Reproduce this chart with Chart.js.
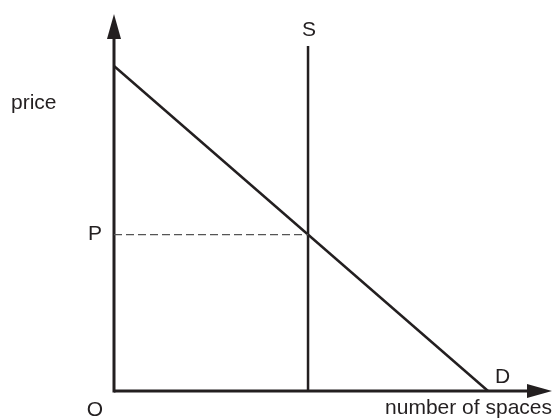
<!DOCTYPE html>
<html>
<head>
<meta charset="utf-8">
<script src="https://cdn.jsdelivr.net/npm/chart.js@4"></script>
<style>
  html, body { margin: 0; padding: 0; background: #fff; }
  canvas { display: block; }
</style>
</head>
<body>
<canvas id="chart-market" width="554" height="419"></canvas>
<script>
// diagram values, in axis units (0..100 each way)
const axisMax = [100, 100];
const demandTop = [0, 86.2];
const demandEnd = [85.4, 0];
const supplyX = [44.3, 44.3];
const supplyY = [0, 91.5];
const priceP = [41.5, 41.5];
const priceX = [0, 44.3];

const labels = {
  price: 'price',
  p: 'P',
  o: 'O',
  s: 'S',
  d: 'D',
  quantity: 'number of spaces'
};

const ink = '#231f20';

const diagramText = {
  id: 'diagramText',
  afterDatasetsDraw(chart) {
    const { ctx, scales } = chart;
    const x = scales.x, y = scales.y;
    const x0 = x.getPixelForValue(0), y0 = y.getPixelForValue(0);
    const xTip = x.getPixelForValue(axisMax[0]);
    const yTip = y.getPixelForValue(axisMax[1]);

    ctx.save();
    ctx.fillStyle = ink;
    // arrow heads
    ctx.beginPath();
    ctx.moveTo(x0, yTip);
    ctx.lineTo(x0 - 7, yTip + 25);
    ctx.lineTo(x0 + 7, yTip + 25);
    ctx.closePath();
    ctx.fill();
    ctx.beginPath();
    ctx.moveTo(xTip, y0);
    ctx.lineTo(xTip - 25, y0 - 7);
    ctx.lineTo(xTip - 25, y0 + 7);
    ctx.closePath();
    ctx.fill();

    ctx.font = '21px "Liberation Sans", Arial, sans-serif';
    ctx.textBaseline = 'middle';
    ctx.textAlign = 'center';
    ctx.fillText(labels.s, x.getPixelForValue(supplyX[1]) + 1, 30);
    ctx.fillText(labels.p, 95, y.getPixelForValue(priceP[0]));
    ctx.fillText(labels.o, 95, y0 + 19);
    ctx.textAlign = 'left';
    ctx.fillText(labels.d, x.getPixelForValue(demandEnd[0]) + 7, y0 - 14);
    ctx.fillText(labels.price, 11, 103);
    ctx.textAlign = 'right';
    ctx.fillText(labels.quantity, 552, y0 + 17);
    ctx.restore();
  }
};

new Chart(document.getElementById('chart-market'), {
  type: 'scatter',
  data: {
    datasets: [
      {
        label: 'price line',
        data: [{ x: priceX[0], y: priceP[0] }, { x: priceX[1], y: priceP[1] }],
        showLine: true,
        borderColor: '#555555',
        borderWidth: 1.3,
        borderDash: [8, 4],
        pointRadius: 0,
        clip: false
      },
      {
        label: 'x axis',
        data: [{ x: 0, y: 0 }, { x: axisMax[0] - 3, y: 0 }],
        showLine: true,
        borderColor: ink,
        borderWidth: 3,
        pointRadius: 0,
        clip: false
      },
      {
        label: 'y axis',
        data: [{ x: 0, y: 0 }, { x: 0, y: axisMax[1] - 3 }],
        showLine: true,
        borderColor: ink,
        borderWidth: 3,
        borderCapStyle: 'square',
        pointRadius: 0,
        clip: false
      },
      {
        label: 'D',
        data: [{ x: demandTop[0], y: demandTop[1] }, { x: demandEnd[0], y: demandEnd[1] }],
        showLine: true,
        borderColor: ink,
        borderWidth: 2.5,
        pointRadius: 0,
        clip: false
      },
      {
        label: 'S',
        data: [{ x: supplyX[0], y: supplyY[0] }, { x: supplyX[1], y: supplyY[1] }],
        showLine: true,
        borderColor: ink,
        borderWidth: 2.5,
        pointRadius: 0,
        clip: false
      }
    ]
  },
  options: {
    responsive: false,
    animation: false,
    layout: { padding: { left: 114, right: 2, top: 14, bottom: 28 } },
    scales: {
      x: { display: false, min: 0, max: axisMax[0] },
      y: { display: false, min: 0, max: axisMax[1] }
    },
    plugins: {
      legend: { display: false },
      tooltip: { enabled: false },
      title: { display: false }
    }
  },
  plugins: [diagramText]
});
</script>
</body>
</html>
